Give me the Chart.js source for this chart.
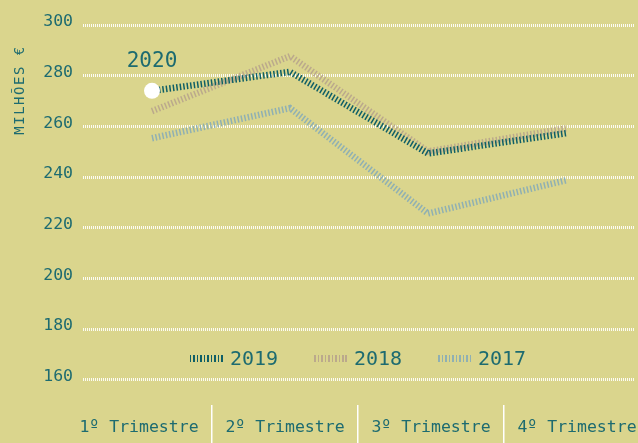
<!DOCTYPE html>
<html lang="pt">

<head>
    <meta charset="UTF-8" />
    <title>Trimestres 2017-2020</title>
    <script src="https://cdn.jsdelivr.net/npm/chart.js@4"></script>
    <style type="text/css">
        body {
            margin: 0;
            background: #dad58d;
        }

        .chartBox {
            position: relative;
            width: 638px;
            height: 443px;
        }

        .legend {
            position: absolute;
            top: 346px;
            font: 20px "DejaVu Sans Mono", monospace;
            color: #1d6b70;
            display: flex;
            align-items: center;
        }

        .legend span.sample {
            display: inline-block;
            width: 33px;
            height: 7px;
            margin-right: 7px;
        }
    </style>
</head>

<body>
    <div class="chartBox">
        <canvas id="myChart" width="638" height="443"></canvas>
        <div id="legend"></div>
    </div>

    <script>
        const quarters = ['1º Trimestre', '2º Trimestre', '3º Trimestre', '4º Trimestre'];
        const years = ['2019', '2018', '2017'];
        const values2020 = [274, null, null, null];
        const values2019 = [274, 281.5, 249.3, 257.3];
        const values2018 = [266, 287.7, 250.1, 259.2];
        const values2017 = [255.3, 267.2, 225.6, 238.7];
        const yTicks = [160, 180, 200, 220, 240, 260, 280, 300];

        const teal = '#1d6b70';
        const colors = ['#0f5f66', '#bba98c', '#8fb0b3'];
        const font = '"DejaVu Sans Mono", monospace';

        // HTML legend
        const legendLeft = [190, 314, 438];
        const legendBox = document.getElementById('legend');
        years.forEach((y, i) => {
            const item = document.createElement('div');
            item.className = 'legend';
            item.style.left = legendLeft[i] + 'px';
            item.innerHTML = '<span class="sample" style="background: repeating-linear-gradient(90deg, ' +
                colors[i] + ' 0 1.5px, transparent 1.5px 3.5px)"></span>' + y;
            legendBox.appendChild(item);
        });

        // axis title + "2020" label
        const textPlugin = {
            id: 'texts',
            afterDatasetsDraw(chart) {
                const ctx = chart.ctx;
                ctx.save();
                ctx.fillStyle = teal;
                ctx.textAlign = 'center';
                ctx.textBaseline = 'middle';
                const pt = chart.getDatasetMeta(0).data[0];
                ctx.font = '21px ' + font;
                ctx.fillText('2020', pt.x, pt.y - 29);

                ctx.translate(20, 90);
                ctx.rotate(-Math.PI / 2);
                ctx.font = '14px ' + font;
                ctx.letterSpacing = '1.5px';
                ctx.fillText('MILHÕES €', 0, 0);
                ctx.restore();
            }
        };

        function lineSet(label, data, color) {
            return {
                label: label,
                data: data,
                xAxisID: 'x',
                borderColor: color,
                backgroundColor: color,
                borderWidth: 6.5,
                borderDash: [1.5, 2],
                borderCapStyle: 'butt',
                borderJoinStyle: 'miter',
                pointRadius: 0,
                tension: 0,
                fill: false
            };
        }

        function noPad(scale) {
            scale.paddingLeft = 0;
            scale.paddingRight = 0;
            scale.paddingTop = 0;
            scale.paddingBottom = 0;
        }

        const ctx = document.getElementById('myChart').getContext('2d');
        const myChart = new Chart(ctx, {
            type: 'line',
            data: {
                labels: quarters,
                datasets: [{
                    label: '2020',
                    data: values2020,
                    xAxisID: 'x',
                    showLine: false,
                    pointRadius: 8,
                    pointBackgroundColor: '#ffffff',
                    pointBorderWidth: 0,
                    borderColor: '#ffffff'
                },
                lineSet('2019', values2019, colors[0]),
                lineSet('2018', values2018, colors[1]),
                lineSet('2017', values2017, colors[2])
                ]
            },
            options: {
                responsive: false,
                animation: false,
                layout: {
                    autoPadding: false,
                    padding: { top: 25, right: 3, left: 0, bottom: 0 }
                },
                plugins: {
                    legend: { display: false },
                    tooltip: { enabled: false }
                },
                scales: {
                    x: {
                        type: 'category',
                        offset: true,
                        display: false,
                        afterFit: noPad
                    },
                    xl: {
                        type: 'linear',
                        position: 'bottom',
                        min: 1 - 129 / 146,
                        max: 1 - 129 / 146 + 552 / 146,
                        afterBuildTicks: scale => {
                            scale.ticks = [0.5, 1, 1.5, 2, 2.5, 3, 3.5].map(v => ({ value: v }));
                        },
                        afterFit: scale => {
                            scale.height = 38;
                            noPad(scale);
                        },
                        border: { display: false },
                        grid: {
                            drawOnChartArea: false,
                            drawTicks: true,
                            tickLength: 38,
                            lineWidth: 1.5,
                            color: c => (c.tick && c.tick.value % 1 === 0) ? '#ffffff' : 'rgba(0,0,0,0)'
                        },
                        ticks: {
                            autoSkip: false,
                            maxRotation: 0,
                            padding: -25,
                            color: teal,
                            font: { family: font, size: 16.5 },
                            callback: v => (v % 1 === 0.5) ? quarters[Math.floor(v)] : ''
                        }
                    },
                    y: {
                        min: 150,
                        max: 300,
                        afterBuildTicks: scale => {
                            scale.ticks = yTicks.map(v => ({ value: v }));
                        },
                        afterFit: scale => {
                            scale.width = 83;
                            scale.paddingTop = 0;
                            scale.paddingBottom = 0;
                        },
                        border: { display: false, dash: [1, 1] },
                        grid: {
                            drawTicks: false,
                            lineWidth: 3,
                            color: 'rgba(255,255,255,0.9)'
                        },
                        ticks: {
                            padding: 10,
                            labelOffset: -3,
                            color: teal,
                            font: { family: font, size: 16.5 }
                        }
                    }
                }
            },
            plugins: [textPlugin]
        });
    </script>
</body>

</html>
